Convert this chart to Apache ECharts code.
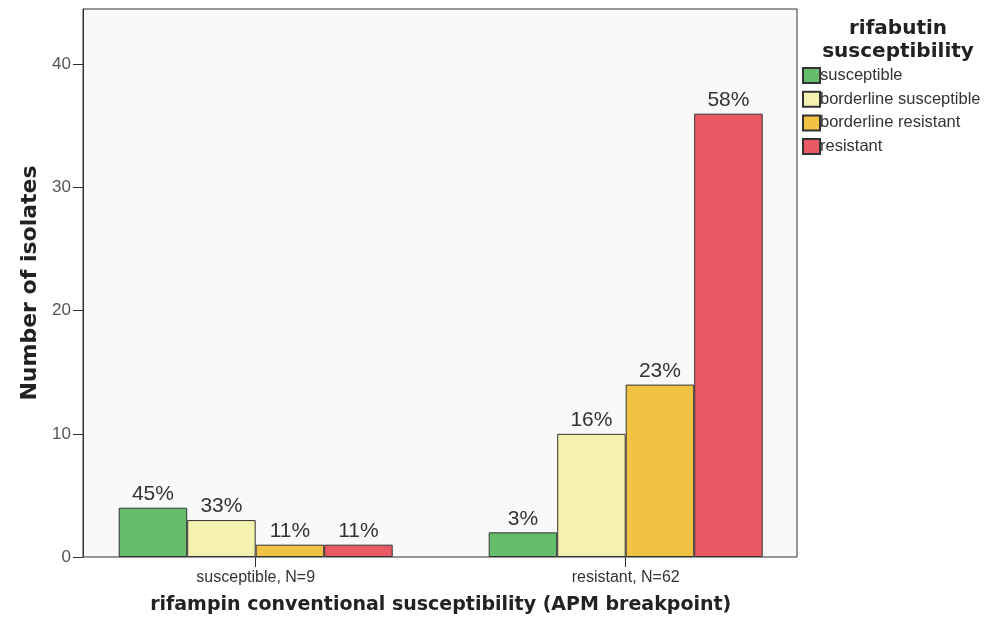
<!DOCTYPE html>
<html><head><meta charset="utf-8">
<script src="https://cdn.jsdelivr.net/npm/echarts@6/dist/echarts.min.js"></script>
<style>html,body{margin:0;padding:0;background:#fff}#c{width:1006px;height:630px}</style>
</head><body><div id="c"></div>
<script>
const categories = ['susceptible, N=9', 'resistant, N=62'];
const seriesNames = ['susceptible', 'borderline susceptible', 'borderline resistant', 'resistant'];
const susceptibleVals = [4, 2];
const borderlineSusceptibleVals = [3, 10];
const borderlineResistantVals = [1, 14];
const resistantVals = [1, 36];
const susceptiblePct = ['45%', '3%'];
const borderlineSusceptiblePct = ['33%', '16%'];
const borderlineResistantPct = ['11%', '23%'];
const resistantPct = ['11%', '58%'];
const yTicks = [0, 10, 20, 30, 40];

const colors = ['#66be6c', '#f5f1ae', '#f2c243', '#e95a64'];
const vals = [susceptibleVals, borderlineSusceptibleVals, borderlineResistantVals, resistantVals];
const pcts = [susceptiblePct, borderlineSusceptiblePct, borderlineResistantPct, resistantPct];
const FONT = '"Liberation Sans", Arial, sans-serif';
const BOLD = '"DejaVu Sans", sans-serif';
const YMAX = 44.5;

const chart = echarts.init(document.getElementById('c'));
chart.setOption({
  animation: false,
  textStyle: { fontFamily: FONT },
  grid: [
    { left: 83, top: 9, width: 714, height: 548, show: true, borderColor: '#333', borderWidth: 1, backgroundColor: '#f9f9f9' },
    { left: 70.7, top: 9, width: 740, height: 548 }
  ],
  xAxis: [
    { gridIndex: 0, type: 'value', show: false, min: 0, max: 1 },
    { gridIndex: 1, type: 'category', data: categories,
      axisLine: { show: false },
      axisTick: { show: true, alignWithLabel: true, length: 10, lineStyle: { color: '#333' } },
      axisLabel: { color: '#333', fontSize: 16, margin: 13, fontFamily: FONT },
      name: 'rifampin conventional susceptibility (APM breakpoint)',
      nameLocation: 'middle', nameGap: 39,
      nameTextStyle: { fontSize: 19, fontWeight: 'bold', color: '#222', fontFamily: BOLD }
    }
  ],
  yAxis: [
    { gridIndex: 0, type: 'value', min: 0, max: YMAX, interval: 10,
      splitLine: { show: false },
      axisLine: { show: true, lineStyle: { color: '#333' } },
      axisTick: { show: true, length: 10, customValues: yTicks, lineStyle: { color: '#333' } },
      axisLabel: { color: '#555', fontSize: 17, margin: 12, fontFamily: FONT, customValues: yTicks },
      name: 'Number of isolates', nameLocation: 'middle', nameGap: 36, nameRotate: 90,
      nameTextStyle: { fontSize: 22, fontWeight: 'bold', color: '#222', fontFamily: BOLD }
    },
    { gridIndex: 1, type: 'value', min: 0, max: YMAX, show: false }
  ],
  legend: {
    orient: 'vertical', left: 797, top: 62,
    itemWidth: 17, itemHeight: 15, itemGap: 6.7,
    icon: 'rect',
    textStyle: { fontSize: 16.5, color: '#333', fontFamily: FONT, padding: [0, 0, 0, -5] },
    data: seriesNames
  },
  graphic: [
    { type: 'text', x: 898, y: 17, style: { text: 'rifabutin\nsusceptibility', align: 'center', verticalAlign: 'top', fontSize: 20, fontWeight: 'bold', lineHeight: 23, fill: '#222', fontFamily: BOLD } }
  ],
  series: seriesNames.map((n, i) => ({
    name: n, type: 'bar', xAxisIndex: 1, yAxisIndex: 1,
    data: vals[i], barWidth: 68.5, barGap: '0%',
    itemStyle: { color: colors[i], borderColor: '#333', borderWidth: 1 },
    label: { show: true, position: 'top', distance: 3, fontSize: 21, color: '#333', fontFamily: FONT,
      formatter: p => pcts[i][p.dataIndex] }
  }))
});
</script></body></html>
